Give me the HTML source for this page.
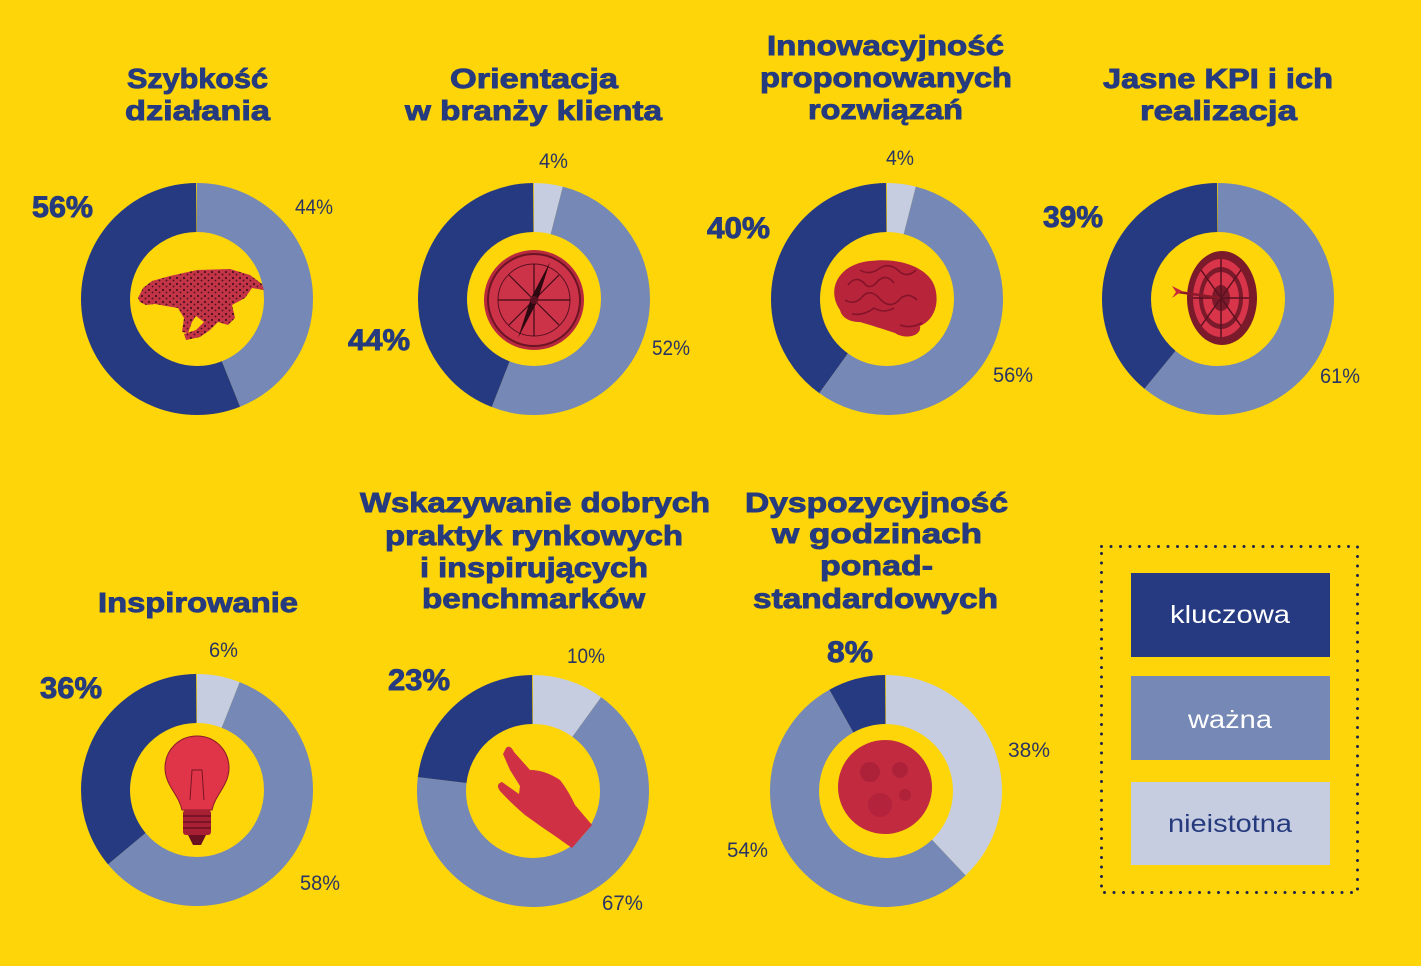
<!DOCTYPE html>
<html><head><meta charset="utf-8"><style>
html,body{margin:0;padding:0;background:#FDD509;}
svg{display:block;}
.t{font-family:"Liberation Sans",Arial,sans-serif;font-weight:bold;font-size:28px;fill:#263A7E;stroke:#263A7E;stroke-width:0.9px;}
.pb{font-family:"Liberation Sans",Arial,sans-serif;font-weight:bold;font-size:30px;fill:#263A7E;stroke:#263A7E;stroke-width:0.9px;}
.pr{font-family:"Liberation Sans",Arial,sans-serif;font-size:21px;fill:#2B3563;}
.lg{font-family:"Liberation Sans",Arial,sans-serif;font-size:25px;}
</style></head><body>
<svg width="1421" height="966" viewBox="0 0 1421 966" xmlns="http://www.w3.org/2000/svg">
<defs>
<pattern id="spots" width="7" height="6" patternUnits="userSpaceOnUse">
<rect width="7" height="6" fill="#C23446"/>
<circle cx="2" cy="2" r="1.1" fill="#4A1020"/>
<circle cx="5.5" cy="4.5" r="0.9" fill="#4A1020"/>
</pattern>
</defs>
<rect width="1421" height="966" fill="#FDD509"/>

<g fill="none" stroke-width="49">
<g transform="rotate(-90 197 299)">
<circle cx="197" cy="299" r="91.5" pathLength="100" stroke="#7688B5" stroke-dasharray="44 100" stroke-dashoffset="0"/>
<circle cx="197" cy="299" r="91.5" pathLength="100" stroke="#263A82" stroke-dasharray="56 100" stroke-dashoffset="-44"/>
</g>
<g transform="rotate(-90 534 299)">
<circle cx="534" cy="299" r="91.5" pathLength="100" stroke="#C6CDE0" stroke-dasharray="4 100" stroke-dashoffset="0"/>
<circle cx="534" cy="299" r="91.5" pathLength="100" stroke="#7688B5" stroke-dasharray="52 100" stroke-dashoffset="-4"/>
<circle cx="534" cy="299" r="91.5" pathLength="100" stroke="#263A82" stroke-dasharray="44 100" stroke-dashoffset="-56"/>
</g>
<g transform="rotate(-90 887 299)">
<circle cx="887" cy="299" r="91.5" pathLength="100" stroke="#C6CDE0" stroke-dasharray="4 100" stroke-dashoffset="0"/>
<circle cx="887" cy="299" r="91.5" pathLength="100" stroke="#7688B5" stroke-dasharray="56 100" stroke-dashoffset="-4"/>
<circle cx="887" cy="299" r="91.5" pathLength="100" stroke="#263A82" stroke-dasharray="40 100" stroke-dashoffset="-60"/>
</g>
<g transform="rotate(-90 1218 299)">
<circle cx="1218" cy="299" r="91.5" pathLength="100" stroke="#7688B5" stroke-dasharray="61 100" stroke-dashoffset="0"/>
<circle cx="1218" cy="299" r="91.5" pathLength="100" stroke="#263A82" stroke-dasharray="39 100" stroke-dashoffset="-61"/>
</g>
<g transform="rotate(-90 197 790)">
<circle cx="197" cy="790" r="91.5" pathLength="100" stroke="#C6CDE0" stroke-dasharray="6 100" stroke-dashoffset="0"/>
<circle cx="197" cy="790" r="91.5" pathLength="100" stroke="#7688B5" stroke-dasharray="58 100" stroke-dashoffset="-6"/>
<circle cx="197" cy="790" r="91.5" pathLength="100" stroke="#263A82" stroke-dasharray="36 100" stroke-dashoffset="-64"/>
</g>
<g transform="rotate(-90 533 791)">
<circle cx="533" cy="791" r="91.5" pathLength="100" stroke="#C6CDE0" stroke-dasharray="10 100" stroke-dashoffset="0"/>
<circle cx="533" cy="791" r="91.5" pathLength="100" stroke="#7688B5" stroke-dasharray="67 100" stroke-dashoffset="-10"/>
<circle cx="533" cy="791" r="91.5" pathLength="100" stroke="#263A82" stroke-dasharray="23 100" stroke-dashoffset="-77"/>
</g>
<g transform="rotate(-90 886 791)">
<circle cx="886" cy="791" r="91.5" pathLength="100" stroke="#C6CDE0" stroke-dasharray="38 100" stroke-dashoffset="0"/>
<circle cx="886" cy="791" r="91.5" pathLength="100" stroke="#7688B5" stroke-dasharray="54 100" stroke-dashoffset="-38"/>
<circle cx="886" cy="791" r="91.5" pathLength="100" stroke="#263A82" stroke-dasharray="8 100" stroke-dashoffset="-92"/>
</g>
</g>

<path d="M138,298 L143,288 L152,281 L170,276 L197,270 L230,269 L250,275 L262,284 L264,290 L252,288 L245,298 L232,305 L235,318 L228,325 L218,322 L210,330 L200,337 L186,340 L184,334 L196,330 L204,322 L196,316 L192,322 L188,333 L182,332 L184,318 L178,308 L166,306 L155,304 L146,305 L140,302 Z" fill="url(#spots)"/>

<g>
<circle cx="534" cy="300" r="50" fill="#B8283E"/>
<circle cx="534" cy="300" r="46" fill="#CC3349" stroke="#6B1424" stroke-width="2"/>
<circle cx="534" cy="300" r="36" fill="none" stroke="#5A1020" stroke-width="1"/>
<g stroke="#3E0B16" stroke-width="1.2">
<line x1="534" y1="264" x2="534" y2="336"/><line x1="498" y1="300" x2="570" y2="300"/>
<line x1="509" y1="275" x2="559" y2="325"/><line x1="559" y1="275" x2="509" y2="325"/>
</g>
<polygon points="550,262 537,302 518,338 531,298" fill="#2E0810"/>
<circle cx="534" cy="300" r="4" fill="#5A1020"/>
</g>

<g>
<path d="M840,310 C826,290 838,264 870,261 C900,257 933,268 936,292 C939,310 930,322 920,326 C922,336 905,340 895,333 C880,328 870,325 860,322 C850,322 842,318 840,310 Z" fill="#B8243A"/>
<g fill="none" stroke="#85142A" stroke-width="1.6">
<path d="M848,285 q8,-10 16,-2 q6,8 14,-2 q8,-8 16,2"/>
<path d="M845,300 q10,6 18,-4 q8,-8 18,4 q10,10 20,-2 q8,-6 16,2"/>
<path d="M860,270 q10,6 20,-2 q10,-6 20,4 q8,6 16,-2"/>
<path d="M852,314 q12,2 22,-6 q10,6 20,0"/>
<path d="M900,325 q10,4 22,-2"/>
</g>
</g>

<g>
<ellipse cx="1222" cy="298" rx="35" ry="47" fill="#7B1A2A"/>
<ellipse cx="1221" cy="298" rx="28" ry="39" fill="#D8344A"/>
<ellipse cx="1221" cy="298" rx="22" ry="31" fill="#7B1A2A"/>
<ellipse cx="1221" cy="298" rx="18" ry="26" fill="#D8344A"/>
<ellipse cx="1221" cy="298" rx="9" ry="13" fill="#7B1A2A"/>
<g stroke="#5A1020" stroke-width="1.5">
<line x1="1221" y1="259" x2="1221" y2="337"/><line x1="1193" y1="298" x2="1249" y2="298"/>
<line x1="1201" y1="270" x2="1241" y2="326"/><line x1="1241" y1="270" x2="1201" y2="326"/>
</g>
<line x1="1178" y1="292" x2="1220" y2="298" stroke="#8A1A2A" stroke-width="2.5"/>
<polygon points="1172,286 1182,291 1172,298 1176,292" fill="#C8283C"/>
</g>

<g>
<path d="M197,736 C215,736 229,750 229,768 C229,785 215,795 212,810 L182,810 C179,795 165,785 165,768 C165,750 179,736 197,736 Z" fill="#E03448" stroke="#8A1A2A" stroke-width="1"/>
<path d="M190,800 L192,770 L202,770 L204,800" fill="none" stroke="#7A1426" stroke-width="1"/>
<rect x="183" y="810" width="28" height="25" rx="3" fill="#A82034"/>
<g stroke="#6A1020" stroke-width="1.5"><line x1="183" y1="816" x2="211" y2="816"/><line x1="183" y1="822" x2="211" y2="822"/><line x1="183" y1="828" x2="211" y2="828"/></g>
<path d="M188,835 L206,835 L201,845 L193,845 Z" fill="#6A1020"/>
</g>

<path d="M506,748 Q510,744 514,752 L530,770 Q545,770 560,780 Q568,790 575,805 L592,825 L572,848 L555,836 Q540,826 525,815 Q510,802 500,791 Q495,784 502,782 L519,794 L520,786 L510,770 L503,754 Z" fill="#CF3043"/>

<g>
<circle cx="885" cy="787" r="47" fill="#C22A3F"/>
<circle cx="870" cy="772" r="10" fill="#A82038" opacity="0.8"/>
<circle cx="900" cy="770" r="8" fill="#A82038" opacity="0.8"/>
<circle cx="880" cy="805" r="12" fill="#A82038" opacity="0.6"/>
<circle cx="905" cy="795" r="6" fill="#A82038" opacity="0.7"/>
</g>

<g class="t">
<text x="127" y="88" textLength="141" lengthAdjust="spacingAndGlyphs">Szybkość</text>
<text x="125" y="120" textLength="145" lengthAdjust="spacingAndGlyphs">działania</text>
<text x="450" y="88" textLength="168" lengthAdjust="spacingAndGlyphs">Orientacja</text>
<text x="405" y="120" textLength="257" lengthAdjust="spacingAndGlyphs">w branży klienta</text>
<text x="767" y="55" textLength="237" lengthAdjust="spacingAndGlyphs">Innowacyjność</text>
<text x="760" y="87" textLength="252" lengthAdjust="spacingAndGlyphs">proponowanych</text>
<text x="808" y="119" textLength="155" lengthAdjust="spacingAndGlyphs">rozwiązań</text>
<text x="1103" y="88" textLength="230" lengthAdjust="spacingAndGlyphs">Jasne KPI i ich</text>
<text x="1140" y="120" textLength="157" lengthAdjust="spacingAndGlyphs">realizacja</text>
<text x="98" y="612" textLength="200" lengthAdjust="spacingAndGlyphs">Inspirowanie</text>
<text x="360" y="512" textLength="350" lengthAdjust="spacingAndGlyphs">Wskazywanie dobrych</text>
<text x="385" y="545" textLength="298" lengthAdjust="spacingAndGlyphs">praktyk rynkowych</text>
<text x="420" y="577" textLength="228" lengthAdjust="spacingAndGlyphs">i inspirujących</text>
<text x="422" y="608" textLength="223" lengthAdjust="spacingAndGlyphs">benchmarków</text>
<text x="745" y="512" textLength="263" lengthAdjust="spacingAndGlyphs">Dyspozycyjność</text>
<text x="772" y="543" textLength="210" lengthAdjust="spacingAndGlyphs">w godzinach</text>
<text x="820" y="575" textLength="113" lengthAdjust="spacingAndGlyphs">ponad-</text>
<text x="753" y="608" textLength="245" lengthAdjust="spacingAndGlyphs">standardowych</text>
</g>

<g class="pb">
<text x="32" y="217" textLength="61" lengthAdjust="spacingAndGlyphs">56%</text>
<text x="348" y="350" textLength="62" lengthAdjust="spacingAndGlyphs">44%</text>
<text x="707" y="238" textLength="63" lengthAdjust="spacingAndGlyphs">40%</text>
<text x="1043" y="227" textLength="60" lengthAdjust="spacingAndGlyphs">39%</text>
<text x="40" y="698" textLength="62" lengthAdjust="spacingAndGlyphs">36%</text>
<text x="388" y="690" textLength="62" lengthAdjust="spacingAndGlyphs">23%</text>
<text x="827" y="662" textLength="46" lengthAdjust="spacingAndGlyphs">8%</text>
</g>
<g class="pr">
<text x="295" y="214" textLength="38" lengthAdjust="spacingAndGlyphs">44%</text>
<text x="539" y="168" textLength="29" lengthAdjust="spacingAndGlyphs">4%</text>
<text x="652" y="355" textLength="38" lengthAdjust="spacingAndGlyphs">52%</text>
<text x="886" y="165" textLength="28" lengthAdjust="spacingAndGlyphs">4%</text>
<text x="993" y="382" textLength="40" lengthAdjust="spacingAndGlyphs">56%</text>
<text x="1320" y="383" textLength="40" lengthAdjust="spacingAndGlyphs">61%</text>
<text x="209" y="657" textLength="29" lengthAdjust="spacingAndGlyphs">6%</text>
<text x="300" y="890" textLength="40" lengthAdjust="spacingAndGlyphs">58%</text>
<text x="567" y="663" textLength="38" lengthAdjust="spacingAndGlyphs">10%</text>
<text x="602" y="910" textLength="41" lengthAdjust="spacingAndGlyphs">67%</text>
<text x="1008" y="757" textLength="42" lengthAdjust="spacingAndGlyphs">38%</text>
<text x="727" y="857" textLength="41" lengthAdjust="spacingAndGlyphs">54%</text>
</g>

<rect x="1101.5" y="546.5" width="256" height="346" fill="none" stroke="#1E2544" stroke-width="3" stroke-linecap="round" stroke-dasharray="0 9.5"/>
<rect x="1131" y="573" width="199" height="84" fill="#263A82"/>
<rect x="1131" y="676" width="199" height="84" fill="#7688B5"/>
<rect x="1131" y="782" width="199" height="83" fill="#C6CDE0"/>
<text class="lg" x="1170" y="623" fill="#FFFFFF" textLength="120" lengthAdjust="spacingAndGlyphs">kluczowa</text>
<text class="lg" x="1188" y="728" fill="#FFFFFF" textLength="84" lengthAdjust="spacingAndGlyphs">ważna</text>
<text class="lg" x="1168" y="832" fill="#263A7E" textLength="124" lengthAdjust="spacingAndGlyphs">nieistotna</text>
</svg>
</body></html>
